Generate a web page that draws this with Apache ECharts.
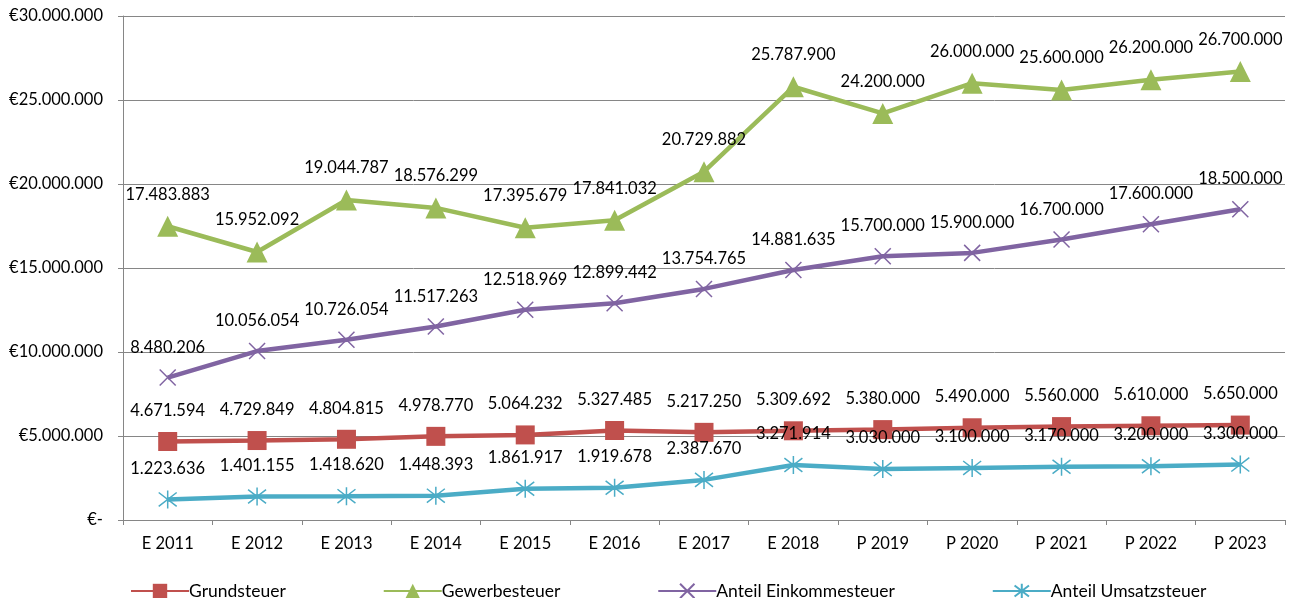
<!DOCTYPE html>
<html>
<head>
    <meta charset="UTF-8">
    <title>Steuereinnahmen</title>
    <script type="text/javascript" src="https://cdn.jsdelivr.net/npm/echarts@6/dist/echarts.min.js"></script>
</head>
<body style="margin:0">
<div id="main" style="width:1301px;height:598px;"></div>
<script type="text/javascript">
    // Daten
    var jahre = ['E 2011','E 2012','E 2013','E 2014','E 2015','E 2016','E 2017','E 2018','P 2019','P 2020','P 2021','P 2022','P 2023'];
    var grundsteuer = [4671594, 4729849, 4804815, 4978770, 5064232, 5327485, 5217250, 5309692, 5380000, 5490000, 5560000, 5610000, 5650000];
    var gewerbesteuer = [17483883, 15952092, 19044787, 18576299, 17395679, 17841032, 20729882, 25787900, 24200000, 26000000, 25600000, 26200000, 26700000];
    var einkommensteuer = [8480206, 10056054, 10726054, 11517263, 12518969, 12899442, 13754765, 14881635, 15700000, 15900000, 16700000, 17600000, 18500000];
    var umsatzsteuer = [1223636, 1401155, 1418620, 1448393, 1861917, 1919678, 2387670, 3271914, 3030000, 3100000, 3170000, 3200000, 3300000];

    var schrift = 'Lato';

    // Tausenderpunkte
    function fmt(v) {
        return String(Math.round(v)).replace(/\B(?=(\d{3})+(?!\d))/g, '.');
    }

    function reihe(name, data, color, symbol, size, strich) {
        return {
            name: name,
            type: 'line',
            data: data,
            symbol: symbol,
            symbolSize: size,
            lineStyle: {color: color, width: 4.5},
            itemStyle: strich ? {color: 'transparent', borderColor: color, borderWidth: 1.5} : {color: color},
            label: {
                show: true,
                position: 'top',
                distance: 13,
                fontFamily: schrift,
                fontSize: 16.5,
                color: '#000',
                formatter: function (p) { return fmt(p.value); }
            },
            z: 3
        };
    }

    var myChart = echarts.init(document.getElementById('main'));
    var option = {
        animation: false,
        grid: {left: 123, right: 16, top: 16, bottom: 78},
        legend: {
            left: 125,
            top: 577,
            itemWidth: 58,
            itemHeight: 18,
            itemGap: 97,
            textStyle: {fontFamily: schrift, fontSize: 17.5, color: '#000', padding: [0, 0, 0, -5]},
            data: ['Grundsteuer', 'Gewerbesteuer', 'Anteil Einkommesteuer', 'Anteil Umsatzsteuer']
        },
        xAxis: {
            type: 'category',
            data: jahre,
            boundaryGap: true,
            axisLine: {lineStyle: {color: '#868686', width: 1}},
            axisTick: {show: true, length: 5, lineStyle: {color: '#868686'}},
            axisLabel: {fontFamily: schrift, fontSize: 16.5, color: '#000', margin: 15}
        },
        yAxis: {
            type: 'value',
            min: 0,
            max: 30000000,
            interval: 5000000,
            axisLine: {show: true, lineStyle: {color: '#868686', width: 1}},
            axisTick: {show: true, length: 5, lineStyle: {color: '#868686'}},
            splitLine: {lineStyle: {color: '#868686', width: 1}},
            axisLabel: {
                fontFamily: schrift, fontSize: 16.5, color: '#000', margin: 20,
                formatter: function (v) { return v === 0 ? '€-' : '€' + fmt(v); }
            }
        },
        series: [
            reihe('Grundsteuer', grundsteuer, '#C0504D', 'rect', 19, false),
            reihe('Gewerbesteuer', gewerbesteuer, '#9BBB59', 'triangle', 21, false),
            reihe('Anteil Einkommesteuer', einkommensteuer, '#8064A2', 'path://M0,0 L10,10 M10,0 L0,10', 16, true),
            reihe('Anteil Umsatzsteuer', umsatzsteuer, '#4BACC6', 'path://M0,0 L10,10 M10,0 L0,10 M5,-1.5 L5,11.5', 18, true)
        ]
    };
    myChart.setOption(option);
</script>
</body>
</html>
